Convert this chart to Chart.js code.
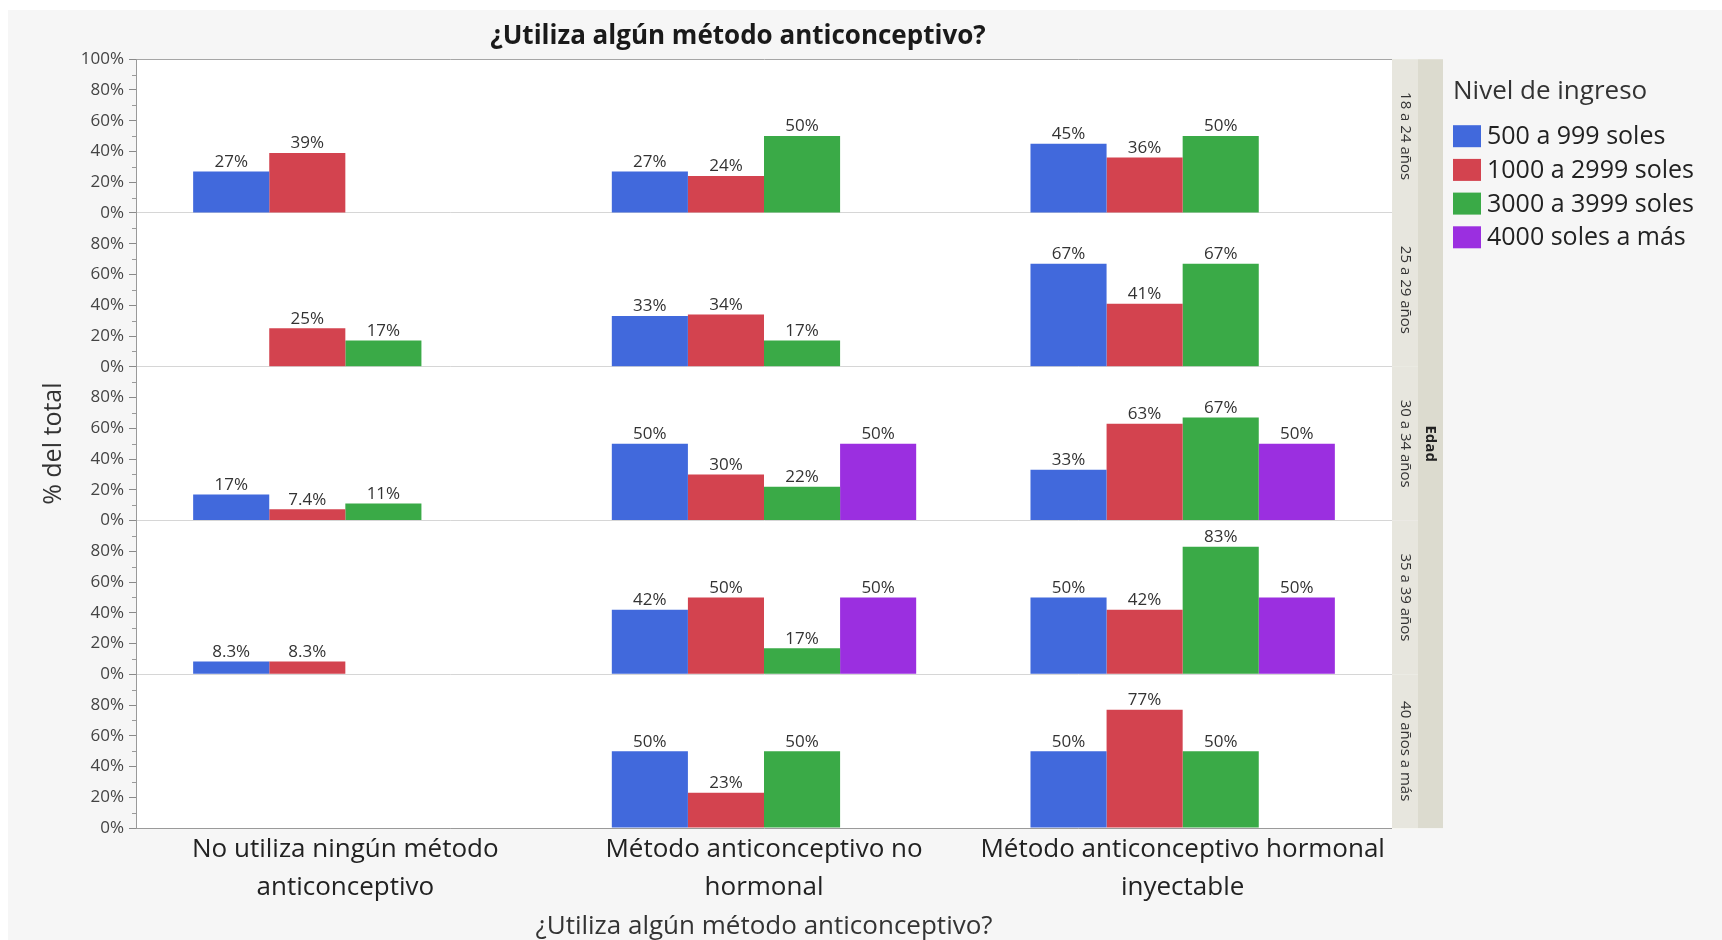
<!DOCTYPE html>
<html><head><meta charset="utf-8">
<script src="https://cdn.jsdelivr.net/npm/chart.js@4.4.0/dist/chart.umd.min.js"></script>
<style>
html,body{margin:0;padding:0;background:#fff;width:1722px;height:940px;overflow:hidden}
#wrap{position:absolute;left:8px;top:10px;width:1714px;height:930px;background:#f6f6f6}
</style></head><body>
<div id="wrap"><canvas id="c"></canvas></div>
<script>
// ---------- data ----------
const categories = [
  ['No utiliza ningún método', 'anticonceptivo'],
  ['Método anticonceptivo no', 'hormonal'],
  ['Método anticonceptivo hormonal', 'inyectable']
];
const ageGroups = ['18 a 24 años', '25 a 29 años', '30 a 34 años', '35 a 39 años', '40 años a más'];
const incomeLevels = ['500 a 999 soles', '1000 a 2999 soles', '3000 a 3999 soles', '4000 soles a más'];
// rows = age groups (top to bottom), columns = categories
const ingreso500a999   = [[27, 27, 45], [null, 33, 67], [17, 50, 33], [8.3, 42, 50], [null, 50, 50]];
const ingreso1000a2999 = [[39, 24, 36], [25, 34, 41], [7.4, 30, 63], [8.3, 50, 42], [null, 23, 77]];
const ingreso3000a3999 = [[null, 50, 50], [17, 17, 67], [11, 22, 67], [null, 17, 83], [null, 50, 50]];
const ingreso4000aMas  = [[null, null, null], [null, null, null], [null, 50, 50], [null, 50, 50], [null, null, null]];
const yTickValues = [0, 20, 40, 60, 80, 100];
const yMinorTickValues = [10, 30, 50, 70, 90];

// ---------- styles ----------
const seriesValues = [ingreso500a999, ingreso1000a2999, ingreso3000a3999, ingreso4000aMas];
const seriesColors = ['#4169dc', '#d3434f', '#3aaa47', '#9b2fe0'];
const FONT = "'Open Sans', sans-serif";
Chart.defaults.font.family = FONT;

const datasets = [];
ageGroups.forEach((g, p) => {
  incomeLevels.forEach((lvl, s) => {
    datasets.push({
      label: lvl,
      data: seriesValues[s][p],
      yAxisID: 'y' + p,
      stack: 's' + s,
      backgroundColor: seriesColors[s],
      borderWidth: 0,
      categoryPercentage: 0.727,
      barPercentage: 1.0
    });
  });
});

const scales = {
  x: {
    type: 'category',
    position: 'bottom',
    grid: { display: false, drawTicks: false },
    border: { display: true, color: '#9a9a9a' },
    ticks: { color: '#222', font: { size: 26, lineHeight: 1.45 }, padding: 3, maxRotation: 0, autoSkip: false },
    title: { display: true, text: '¿Utiliza algún método anticonceptivo?', color: '#333', font: { size: 26, lineHeight: 1.0 }, padding: { top: 4.5, bottom: 0 } }
  }
};
// define bottom panel first so the first age group ends on top of the stack
for (let p = ageGroups.length - 1; p >= 0; p--) {
  scales['y' + p] = {
    type: 'linear',
    position: 'left',
    stack: 'edad',
    stackWeight: 1,
    min: 0,
    max: 100,
    offset: false,
    afterBuildTicks: (sc) => { sc.ticks = yTickValues.map(v => ({ value: v })); },
    afterFit: (sc) => { sc.width = 128; },
    ticks: {
      autoSkip: false,
      color: '#444',
      font: { size: 17 },
      padding: 5,
      callback: (v) => (v === 100 && p !== 0) ? '' : v + '%'
    },
    grid: {
      drawTicks: true,
      tickLength: 7,
      color: (ctx) => ctx.tick && ctx.tick.value === 0 ? '#d6d6d6' : (p === 0 && ctx.tick && ctx.tick.value === 100 ? '#a6a6a6' : 'rgba(0,0,0,0)'),
      tickColor: '#8a8a8a'
    },
    border: { display: true, color: '#9a9a9a' },
    title: p === 2 ? { display: true, text: '% del total', color: '#333', font: { size: 25 }, padding: { top: 31, bottom: 20 } } : { display: false }
  };
}
// reserved area on the right for the "Edad" strips (legend sits in the layout padding)
scales.strip = {
  type: 'linear',
  position: 'right',
  display: true,
  ticks: { display: false },
  grid: { display: false, drawTicks: false },
  border: { display: false },
  afterFit: (sc) => { sc.width = 76; }
};

const plotBg = {
  id: 'plotBg',
  beforeDraw(chart) {
    const { ctx, chartArea: a } = chart;
    ctx.save();
    ctx.fillStyle = '#ffffff';
    ctx.fillRect(a.left, a.top, a.right - a.left, a.bottom - a.top);
    ctx.restore();
  }
};

const minorTicks = {
  id: 'minorTicks',
  afterDraw(chart) {
    const { ctx } = chart;
    ctx.save();
    ctx.strokeStyle = '#9a9a9a';
    ctx.lineWidth = 1;
    ageGroups.forEach((g, p) => {
      const sc = chart.scales['y' + p];
      yMinorTickValues.forEach(v => {
        const y = Math.round(sc.getPixelForValue(v)) + 0.5;
        ctx.beginPath();
        ctx.moveTo(sc.right - 4, y);
        ctx.lineTo(sc.right, y);
        ctx.stroke();
      });
    });
    ctx.restore();
  }
};

const barLabels = {
  id: 'barLabels',
  afterDatasetsDraw(chart) {
    const { ctx } = chart;
    ctx.save();
    ctx.font = '17px ' + FONT;
    ctx.fillStyle = '#333';
    ctx.textAlign = 'center';
    ctx.textBaseline = 'bottom';
    chart.data.datasets.forEach((ds, i) => {
      const meta = chart.getDatasetMeta(i);
      meta.data.forEach((bar, j) => {
        const v = ds.data[j];
        if (v === null || v === undefined) return;
        ctx.fillText(v + '%', bar.x, bar.y - 1);
      });
    });
    ctx.restore();
  }
};

const strips = {
  id: 'strips',
  afterDraw(chart) {
    const { ctx, chartArea: a } = chart;
    const x0 = a.right, w1 = 26, w2 = 25;
    ctx.save();
    ageGroups.forEach((g, p) => {
      const sc = chart.scales['y' + p];
      ctx.fillStyle = '#e7e6de';
      ctx.fillRect(x0, sc.top, w1, sc.bottom - sc.top);
      ctx.strokeStyle = '#f6f6f1';
      ctx.lineWidth = 1;
      ctx.beginPath();
      ctx.moveTo(x0, Math.round(sc.bottom) + 0.5);
      ctx.lineTo(x0 + w1, Math.round(sc.bottom) + 0.5);
      ctx.stroke();
      ctx.save();
      ctx.translate(x0 + w1 / 2, (sc.top + sc.bottom) / 2);
      ctx.rotate(Math.PI / 2);
      ctx.fillStyle = '#333';
      ctx.font = '15px ' + FONT;
      ctx.textAlign = 'center';
      ctx.textBaseline = 'middle';
      ctx.fillText(g, 0, 0);
      ctx.restore();
    });
    ctx.fillStyle = '#dcdbcf';
    ctx.fillRect(x0 + w1, a.top, w2, a.bottom - a.top);
    ctx.save();
    ctx.translate(x0 + w1 + w2 / 2, (a.top + a.bottom) / 2);
    ctx.rotate(Math.PI / 2);
    ctx.fillStyle = '#222';
    ctx.font = 'bold 15px ' + FONT;
    ctx.textAlign = 'center';
    ctx.textBaseline = 'middle';
    ctx.fillText('Edad', 0, 0);
    ctx.restore();

    // legend (Nivel de ingreso)
    const lx = x0 + w1 + w2 + 10;
    ctx.fillStyle = '#333';
    ctx.font = '26px ' + FONT;
    ctx.textAlign = 'left';
    ctx.textBaseline = 'middle';
    ctx.fillText('Nivel de ingreso', lx, a.top + 32);
    incomeLevels.forEach((lvl, s) => {
      const cy = a.top + 77 + s * 33.7;
      ctx.fillStyle = seriesColors[s];
      ctx.fillRect(lx, cy - 11, 28, 22);
      ctx.fillStyle = '#222';
      ctx.font = '25px ' + FONT;
      ctx.fillText(lvl, lx + 34, cy + 1);
    });
    ctx.restore();
  }
};

new Chart(document.getElementById('c'), {
  type: 'bar',
  data: { labels: categories, datasets },
  options: {
    responsive: true,
    maintainAspectRatio: false,
    animation: false,
    events: [],
    layout: { padding: { left: 0, right: 254, top: 0, bottom: 0 } },
    scales,
    plugins: {
      tooltip: { enabled: false },
      legend: { display: false },
      title: {
        display: true,
        text: '¿Utiliza algún método anticonceptivo?',
        color: '#1a1a1a',
        font: { size: 26, weight: 'bold' },
        fullSize: true,
        padding: { top: 11, bottom: 7 }
      }
    }
  },
  plugins: [plotBg, minorTicks, barLabels, strips]
});
</script>
</body></html>
